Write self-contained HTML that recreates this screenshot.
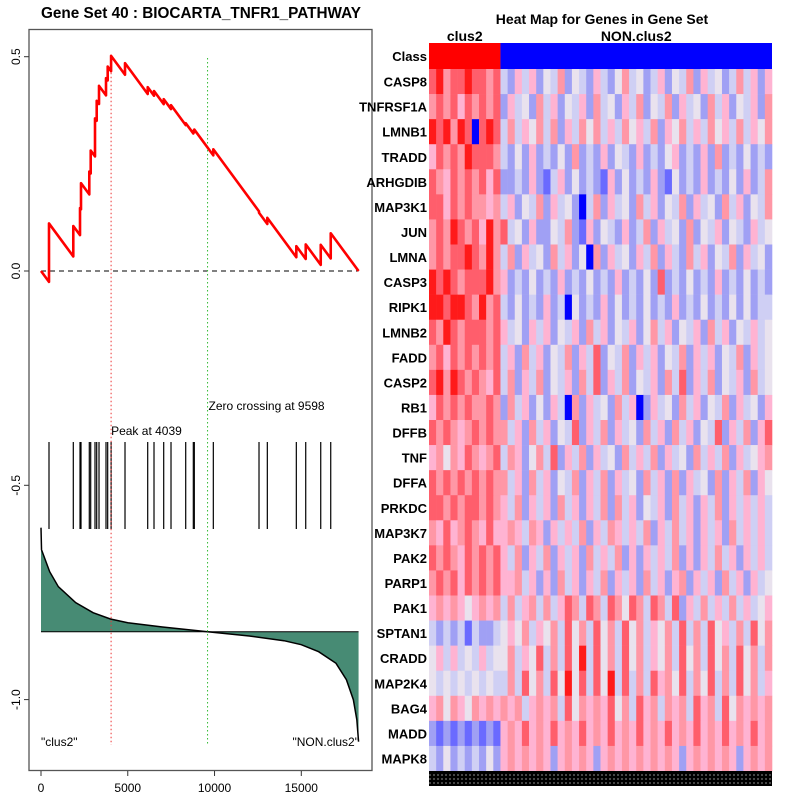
<!DOCTYPE html>
<html><head><meta charset="utf-8"><style>
body{margin:0;background:#fff;}
svg{display:block;font-family:"Liberation Sans",Arial,sans-serif;}
</style></head><body>
<svg id="chart" width="800" height="800" viewBox="0 0 800 800">
<rect width="800" height="800" fill="#fff"/>
<g id="left"></g>
<g id="right"></g>
</svg>
<script>
const ns="http://www.w3.org/2000/svg";
// ---------- enrichment plot data ----------
const xTicks=[0,5000,10000,15000];
const yTicks=[0.5,0.0,-0.5,-1.0];
const yTickLabels=["0.5","0.0","-0.5","-1.0"];
const nGenes=18300;
const hitRanks=[461,1861,2248,2305,2783,2864,3112,3210,3343,3746,3843,4039,4841,6149,6512,7071,7492,8339,8777,8835,9930,12563,13042,14713,15255,16120,16696];
const esAfterHit=[0.111,0.105,0.147,0.205,0.232,0.281,0.356,0.397,0.432,0.45,0.477,0.502,0.485,0.429,0.42,0.401,0.387,0.345,0.327,0.33,0.284,0.136,0.124,0.058,0.062,0.061,0.088];
const esSlope=0.000055;
const peakRank=4039, zeroCross=9598;
const metricRanks=[0,30,500,1000,2000,3000,4000,5000,7000,9598,12000,14000,15000,16000,17000,17600,18000,18200,18300];
const metricValues=[1.04,0.82,0.60,0.45,0.29,0.19,0.127,0.09,0.047,0,-0.043,-0.09,-0.13,-0.20,-0.316,-0.48,-0.68,-0.88,-1.10];

const X0=41, XS=260.3/15000;
const xs=r=>X0+r*XS;
const Y0=271, YS=428.6;
const ys=v=>Y0-v*YS;
const metricZero=631.7, metricScale=100;
const ms=v=>metricZero-v*metricScale;

function mk(tag,attrs,parent,text){const e=document.createElementNS(ns,tag);for(const k in attrs)e.setAttribute(k,attrs[k]);if(text!==undefined)e.textContent=text;parent.appendChild(e);return e;}
const L=document.getElementById('left');
let t=mk('text',{x:201,y:18,'text-anchor':'middle','font-size':'15.5','font-weight':'bold',textLength:'320',lengthAdjust:'spacingAndGlyphs'},L,'Gene Set  40 : BIOCARTA_TNFR1_PATHWAY');


let box=mk('rect',{x:29,y:29.5,width:343,height:741,fill:'none',stroke:'#555','stroke-width':1.3},L);


xTicks.forEach(v=>{
  const tk=mk('line',{x1:xs(v),x2:xs(v),y1:771,y2:776,stroke:'#333'},L);
  
  
  const lb=mk('text',{x:xs(v),y:792,'text-anchor':'middle','font-size':'12'},L,String(v));
  
  
});
yTicks.forEach((v,i)=>{
  const tk=mk('line',{x1:24,x2:29,y1:ys(v),y2:ys(v),stroke:'#333'},L);
  
  
  const lb=mk('text',{x:0,y:0,'text-anchor':'middle','font-size':'12',transform:`translate(20,${ys(v)}) rotate(-90)`},L,yTickLabels[i]);
  
  
});
let pts=metricRanks.map((r,i)=>`${xs(r)},${ms(metricValues[i])}`);
let area=mk('polygon',{points:`${xs(0)},${metricZero} `+pts.join(' ')+` ${xs(nGenes)},${metricZero}`,fill:'#478b74',stroke:'none'},L);


let mline=mk('polyline',{points:pts.join(' '),fill:'none',stroke:'#000','stroke-width':1.5},L);


let zl=mk('line',{x1:xs(0),x2:xs(nGenes),y1:metricZero,y2:metricZero,stroke:'#000','stroke-width':1},L);


hitRanks.forEach(r=>{
  const h=mk('line',{x1:xs(r),x2:xs(r),y1:442,y2:529,stroke:'#000','stroke-width':1.2},L);
  
  
});
let ez=mk('line',{x1:xs(0),x2:xs(nGenes),y1:ys(0),y2:ys(0),stroke:'#000','stroke-dasharray':'5,4'},L);


let pl=mk('line',{x1:xs(peakRank),x2:xs(peakRank),y1:ys(0.5),y2:745,stroke:'#e33','stroke-dasharray':'1.5,2.5'},L);


let zc=mk('line',{x1:xs(zeroCross),x2:xs(zeroCross),y1:58,y2:745,stroke:'#3b3','stroke-dasharray':'1.5,2.5'},L);


let es=[[0,0]];let prevR=0,prevV=0;
hitRanks.forEach((r,i)=>{const pre=prevV-esSlope*(r-prevR);es.push([r,pre]);es.push([r,esAfterHit[i]]);prevR=r;prevV=esAfterHit[i];});
es.push([nGenes,0]);
let esl=mk('polyline',{points:es.map(p=>`${xs(p[0])},${ys(p[1])}`).join(' '),fill:'none',stroke:'#f00','stroke-width':2.6,'stroke-linejoin':'round'},L);


let a1=mk('text',{x:xs(peakRank),y:435,'font-size':'12'},L,'Peak at 4039');


let a2=mk('text',{x:xs(zeroCross)+1,y:410,'font-size':'12'},L,'Zero crossing at 9598');


let a3=mk('text',{x:41,y:746,'font-size':'12'},L,'"clus2"');


let a4=mk('text',{x:359,y:746,'font-size':'12','text-anchor':'end'},L,'"NON.clus2"');



// ---------- heatmap data ----------
const genes=["CASP8","TNFRSF1A","LMNB1","TRADD","ARHGDIB","MAP3K1","JUN","LMNA","CASP3","RIPK1","LMNB2","FADD","CASP2","RB1","DFFB","TNF","DFFA","PRKDC","MAP3K7","PAK2","PARP1","PAK1","SPTAN1","CRADD","MAP2K4","BAG4","MADD","MAPK8"];
const clus2Cols=10;
const rowLevels=[
"786778776732535243624325324634235243625342363525",
"676757676725342635243526342536243625342635243526",
"878687078736354636253646353645362546353645363546",
"576768777632425232426232524325232452325262324232",
"765767675722325213524232152423252142325232425236",
"775767665635243625342036253426352436253426352436",
"676876758673425224362152432523625342624352432534",
"676778768636253426352406253425362532635243625342",
"878767778652324232523242325232427232423252324232",
"887887686732423252304232524232423252324232424233",
"768767776753425352435263524352463524352635243534",
"675767676735263524362537243625352436253524362534",
"786876765736253624352637253624352637253624352634",
"576767667626352425306253426350253426352436253425",
"767656767663526352437253625342635263524372536257",
"564657656736524637253625342635362534263536253456",
"767676767663526352436253625342635262534262536254",
"776767767653625352635253626352435263525362535353",
"657567657556536525353625365353625363525352635353",
"767657676753625362535263536252535362525363525353",
"676757676755635252635253625352635256253526352534",
"565654565636356363576376376476376372536353635345",
"323231322345463546374637463746354637363745363746",
"453534353446354736374837463746354637463746374636",
"434343434336374637484737483736375647364736374635",
"564654656565635656374656574637563656375637465656",
"212121212156575657565756575657565756575657565756",
"324232324256565652565652565656565652565656525656"];
const palette=["#0000ff","#6a6aff","#a0a0f4","#cfcff4","#e9e2ee","#ffb3d2","#ff97a6","#ff5e6c","#ff1a1a"];
const HX0=429,HX1=772,HY0=69,rowH=(771-69)/genes.length;
const R=document.getElementById('right');
let ht=mk('text',{x:602,y:24,'text-anchor':'middle','font-size':'14','font-weight':'bold'},R,'Heat Map for Genes in Gene Set');


const nCols=rowLevels[0].length, colW=(HX1-HX0)/nCols;
const splitX=HX0+clus2Cols*colW;
let c1=mk('text',{x:(HX0+splitX)/2,y:41,'text-anchor':'middle','font-size':'14','font-weight':'bold'},R,'clus2');


let c2=mk('text',{x:(splitX+HX1)/2,y:41,'text-anchor':'middle','font-size':'14','font-weight':'bold'},R,'NON.clus2');


let cr=mk('rect',{x:HX0,y:43,width:splitX-HX0,height:26,fill:'#ff0000'},R);


let cb=mk('rect',{x:splitX,y:43,width:HX1-splitX,height:26,fill:'#0000ff'},R);


let cl=mk('text',{x:427,y:61,'text-anchor':'end','font-size':'13','font-weight':'bold'},R,'Class');


genes.forEach((g,i)=>{
  const y=HY0+i*rowH;
  const lb=mk('text',{x:427,y:y+rowH/2+5,'text-anchor':'end','font-size':'13','font-weight':'bold'},R,g);
  
  
  const s=rowLevels[i];
  for(let j=0;j<s.length;j++){
    const c=mk('rect',{x:HX0+j*colW,y:y,width:colW+0.3,height:rowH+0.3,fill:palette[+s[j]]},R);
    
    
  }
});
let bj=mk('rect',{x:HX0,y:771,width:HX1-HX0,height:15,fill:'#000'},R);


[775,779,783].forEach(yy=>{
  const d=mk('line',{x1:HX0,x2:HX1,y1:yy,y2:yy,stroke:'#bbb','stroke-dasharray':'2,2','stroke-width':0.8},R);
  
  
});
</script>
</body></html>
